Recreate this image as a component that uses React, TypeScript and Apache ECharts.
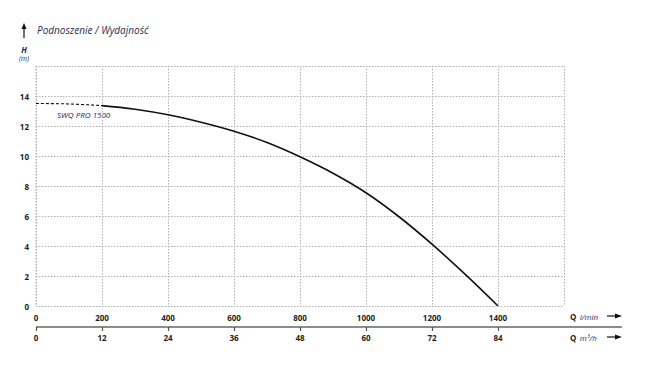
import React, { useEffect, useRef } from "react";
import * as echarts from "echarts";

const flowLpm = [0, 100, 200, 300, 400, 500, 600, 700, 800, 900, 1000, 1100, 1200, 1300, 1400];
const headM = [13.5, 13.47, 13.36, 13.12, 12.75, 12.25, 11.65, 10.9, 9.95, 8.85, 7.55, 5.95, 4.12, 2.12, 0];
const dashedUntil = 200;
const lpmTicks = [0, 200, 400, 600, 800, 1000, 1200, 1400];
const m3hTicks = [0, 12, 24, 36, 48, 60, 72, 84];
const headTicks = [0, 2, 4, 6, 8, 10, 12, 14];
const title = "Podnoszenie / Wydajność";
const curveName = "SWQ PRO 1500";

const FONT = "'Open Sans', 'Noto Sans', sans-serif";
const NAVY = "#1f2d5a";
const GRIDC = "#b0b0b0";

export default function App() {
  const ref = useRef<HTMLDivElement>(null);
  useEffect(() => {
    if (!ref.current) return;
    const chart = echarts.init(ref.current, null, { renderer: "svg" });
    const pts = flowLpm.map((q, i) => [q, headM[i]]);
    const dashedPts = pts.filter((p) => p[0] <= dashedUntil);
    const solidPts = pts.filter((p) => p[0] >= dashedUntil);
    const gl = 36, gt = 66, gw = 528, gh = 240;
    const fmt = (v: number) => String(v);
    chart.setOption({
      animation: false,
      backgroundColor: "#fff",
      textStyle: { fontFamily: FONT },
      grid: { left: gl, top: gt, width: gw, height: gh },
      xAxis: [
        {
          type: "value", min: 0, max: 1600, interval: 200, position: "bottom",
          axisLine: { show: false }, axisTick: { show: false },
          splitLine: { show: true, lineStyle: { color: GRIDC, type: [1.5, 1.5], width: 1 } },
          axisLabel: { customValues: lpmTicks, formatter: fmt, margin: 7, fontSize: 8, fontWeight: "bold", color: "#222", fontFamily: FONT },
        },
        {
          type: "value", min: 0, max: 96, position: "bottom", offset: 21,
          axisLine: { show: false },
          axisTick: { show: true, customValues: m3hTicks, length: 4, lineStyle: { color: "#555", width: 1.2 } },
          splitLine: { show: false },
          axisLabel: { customValues: m3hTicks, formatter: fmt, margin: 6, fontSize: 8, fontWeight: "bold", color: "#222", fontFamily: FONT },
        },
      ],
      yAxis: {
        type: "value", min: 0, max: 16, interval: 2,
        axisLine: { show: false }, axisTick: { show: false },
        splitLine: { show: true, lineStyle: { color: GRIDC, type: [1.5, 1.5], width: 1 } },
        axisLabel: { customValues: headTicks, formatter: fmt, margin: 7, fontSize: 8, fontWeight: "bold", color: "#222", fontFamily: FONT },
      },
      series: [
        {
          type: "line", data: dashedPts, smooth: 0.4, symbol: "none", xAxisIndex: 0,
          lineStyle: { color: "#111", width: 1.1, type: [3, 2] },
        },
        {
          type: "line", data: solidPts, smooth: 0.4, symbol: "none", xAxisIndex: 0,
          lineStyle: { color: "#111", width: 1.6 },
        },
      ],
      graphic: [
        { type: "line", shape: { x1: gl, y1: 327, x2: 622, y2: 327 }, style: { stroke: "#666", lineWidth: 1.5 } },
        { type: "line", shape: { x1: gl, y1: gt, x2: gl, y2: gt + gh }, style: { stroke: GRIDC, lineWidth: 1, lineDash: [1.5, 1.5] } },
        { type: "line", shape: { x1: 24, y1: 38, x2: 24, y2: 28 }, style: { stroke: "#111", lineWidth: 1.2 } },
        { type: "polygon", shape: { points: [[24, 23], [21.5, 29], [26.5, 29]] }, style: { fill: "#111" } },
        { type: "text", left: 37, top: 25, style: { text: title, font: `italic 10px ${FONT}`, fill: NAVY } },
        { type: "text", x: 24, y: 49, style: { text: "H", font: `italic bold 8px ${FONT}`, fill: NAVY, align: "center", verticalAlign: "middle" } },
        { type: "text", x: 24, y: 58, style: { text: "(m)", font: `italic 7px ${FONT}`, fill: NAVY, align: "center", verticalAlign: "middle" } },
        { type: "text", x: 57, y: 114, style: { text: curveName, font: `italic 8px ${FONT}`, fill: NAVY, verticalAlign: "middle" } },
        {
          type: "text", x: 570, y: 316,
          style: { text: "{q|Q} {u|l/min}", verticalAlign: "middle", rich: { q: { font: `bold 8px ${FONT}`, fill: "#222" }, u: { font: `italic 8px ${FONT}`, fill: NAVY } } },
        },
        {
          type: "text", x: 570, y: 337,
          style: { text: "{q|Q} {u|m³/h}", verticalAlign: "middle", rich: { q: { font: `bold 8px ${FONT}`, fill: "#222" }, u: { font: `italic 8px ${FONT}`, fill: NAVY } } },
        },
        { type: "line", shape: { x1: 607, y1: 316, x2: 617, y2: 316 }, style: { stroke: "#111", lineWidth: 1.2 } },
        { type: "polygon", shape: { points: [[622, 316], [615, 313.5], [615, 318.5]] }, style: { fill: "#111" } },
        { type: "line", shape: { x1: 607, y1: 337, x2: 617, y2: 337 }, style: { stroke: "#111", lineWidth: 1.2 } },
        { type: "polygon", shape: { points: [[622, 337], [615, 334.5], [615, 339.5]] }, style: { fill: "#111" } },
      ],
    });
    return () => chart.dispose();
  }, []);
  return <div ref={ref} style={{ position: "fixed", left: 0, top: 0, width: 652, height: 375 }} />;
}
